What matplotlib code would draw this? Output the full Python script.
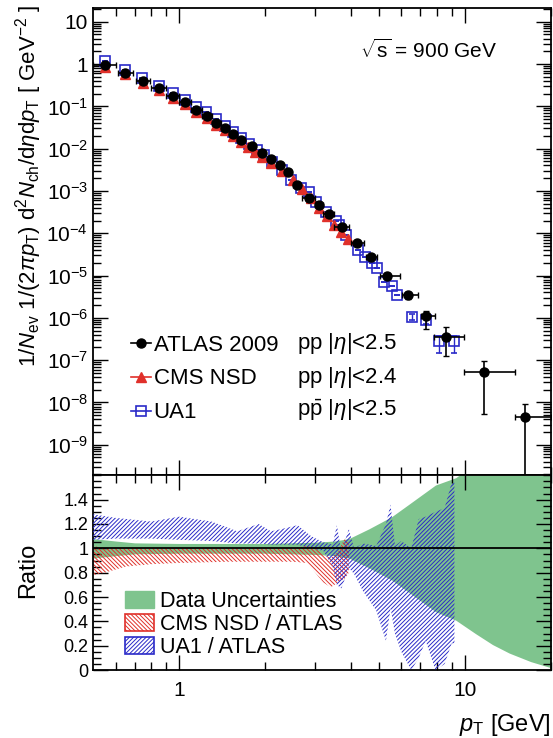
import numpy as np
import matplotlib
matplotlib.use("Agg")
import matplotlib.pyplot as plt
from matplotlib.ticker import LogLocator, FixedLocator, MultipleLocator, FuncFormatter, NullFormatter
from matplotlib.patches import Patch
from matplotlib.lines import Line2D

plt.rcParams['font.family'] = ['Liberation Sans', 'DejaVu Sans']
plt.rcParams['mathtext.fontset'] = 'custom'
plt.rcParams['mathtext.rm'] = 'Liberation Sans'
plt.rcParams['mathtext.it'] = 'Liberation Sans:italic'
plt.rcParams['mathtext.bf'] = 'Liberation Sans:bold'
plt.rcParams['hatch.linewidth'] = 0.7

# ATLAS 2009, pp |eta|<2.5
atlas_pt = [0.55, 0.65, 0.75, 0.85, 0.95, 1.05, 1.15, 1.25, 1.35, 1.45, 1.55, 1.65, 1.8, 1.95, 2.1,
            2.25, 2.4, 2.58, 2.84, 3.09, 3.34, 3.72, 4.19, 4.69, 5.33, 6.31, 7.3, 8.6, 11.7, 16.2]
atlas_lo = [0.5, 0.61, 0.71, 0.8, 0.9, 1.0, 1.1, 1.2, 1.3, 1.4, 1.5, 1.6, 1.75, 1.9, 2.05,
            2.2, 2.35, 2.5, 2.7, 3.0, 3.2, 3.5, 4.0, 4.5, 5.05, 6.05, 7.05, 7.8, 9.9, 15.0]
atlas_hi = [0.6, 0.69, 0.79, 0.9, 1.0, 1.1, 1.2, 1.3, 1.4, 1.5, 1.6, 1.7, 1.85, 2.0, 2.15,
            2.3, 2.45, 2.65, 3.0, 3.2, 3.5, 3.95, 4.45, 4.95, 5.95, 6.85, 7.9, 9.9, 15.0, 20.0]
atlas_val = [0.95, 0.63, 0.39, 0.27, 0.175, 0.125, 0.082, 0.058, 0.040, 0.030, 0.022, 0.016, 0.0114,
             0.0080, 0.0057, 0.0040, 0.0028, 0.0014, 7.0e-4, 4.6e-4, 2.8e-4, 1.4e-4, 6.0e-5, 2.7e-5,
             1.0e-5, 3.4e-6, 1.1e-6, 3.5e-7, 5.3e-8, 4.6e-9]
atlas_up = [0.05] * 22 + [0.08, 0.1, 0.15, 0.2, 0.31, 0.73, 0.85, 1.03]
atlas_dn = [0.05] * 22 + [0.08, 0.1, 0.15, 0.2, 0.50, 0.64, 0.90, 0.9999]

# CMS NSD, pp |eta|<2.4
cms_pt = [0.55, 0.65, 0.75, 0.85, 0.95, 1.05, 1.15, 1.25, 1.35, 1.45, 1.55, 1.65, 1.75, 1.85, 1.95,
          2.1, 2.3, 2.5, 2.7, 2.9, 3.1, 3.3, 3.5, 3.7, 3.9]
cms_val = [0.85, 0.57, 0.35, 0.24, 0.158, 0.112, 0.074, 0.052, 0.036, 0.027, 0.0195, 0.0142, 0.0110,
           0.0082, 0.0064, 0.0045, 0.0030, 0.0018, 0.0011, 6.8e-4, 4.0e-4, 2.5e-4, 1.6e-4, 1.1e-4, 7.5e-5]

# UA1, ppbar |eta|<2.5
ua1_pt = [0.55, 0.65, 0.74, 0.85, 0.95, 1.05, 1.15, 1.24, 1.35, 1.45, 1.54, 1.65, 1.76, 1.87, 1.98,
          2.11, 2.29, 2.46, 2.67, 2.85, 3.01, 3.26, 3.54, 3.62, 3.83, 4.23, 4.47, 4.73, 4.92, 5.21,
          5.55, 5.79, 6.53, 7.3, 8.1, 9.2]
ua1_val = [1.19, 0.73, 0.47, 0.30, 0.21, 0.142, 0.097, 0.074, 0.050, 0.035, 0.025, 0.0178, 0.0128,
           0.0093, 0.0070, 0.0048, 0.0031, 0.0018, 0.00116, 9.3e-4, 5.4e-4, 3.1e-4, 2.0e-4, 1.55e-4,
           9.0e-5, 4.0e-5, 2.7e-5, 2.0e-5, 1.47e-5, 6.9e-6, 5.8e-6, 3.4e-6, 1.07e-6, 9.0e-7, 2.9e-7, 2.9e-7]
ua1_up = [0.0] * 32 + [0.15, 0.2, 0.31, 0.31]
ua1_dn = [0.0] * 32 + [0.15, 0.2, 0.50, 0.50]

# ratio panel: data uncertainty band
band_pt = [0.5, 0.6, 0.7, 1.0, 2.0, 3.0, 3.5, 3.93, 4.62, 5.55, 6.36, 7.9, 9.3, 10.9, 12.5, 14.3, 17.0, 20.0]
band_hi = [1.08, 1.06, 1.045, 1.04, 1.04, 1.05, 1.06, 1.08, 1.16, 1.26, 1.36, 1.52, 1.58, 1.70, 1.79, 1.86, 1.93, 1.98]
band_lo = [0.92, 0.94, 0.955, 0.96, 0.96, 0.95, 0.94, 0.92, 0.84, 0.74, 0.64, 0.48, 0.41, 0.30, 0.21, 0.14, 0.07, 0.02]

# CMS NSD / ATLAS
cms_r_pt = [0.5, 0.55, 0.65, 0.8, 1.0, 1.5, 2.0, 2.5, 2.8, 3.0, 3.2, 3.4, 3.6, 3.8, 3.93]
cms_r_hi = [1.02, 1.0, 1.0, 1.0, 1.0, 1.0, 1.0, 1.0, 1.02, 1.0, 0.95, 0.92, 0.97, 1.08, 1.05]
cms_r_lo = [0.78, 0.80, 0.85, 0.87, 0.88, 0.89, 0.89, 0.89, 0.88, 0.80, 0.72, 0.68, 0.72, 0.75, 0.80]

# UA1 / ATLAS
ua1_r_pt = [0.5, 0.6, 0.8, 1.0, 1.3, 1.6, 1.9, 2.1, 2.3, 2.6, 2.9, 3.2, 3.45, 3.57, 3.7, 3.93, 4.1,
            4.4, 4.9, 5.3, 5.5, 5.7, 6.0, 6.5, 6.9, 7.3, 7.9, 8.5, 9.0, 9.2]
ua1_r_hi = [1.28, 1.25, 1.22, 1.26, 1.22, 1.14, 1.2, 1.14, 1.16, 1.19, 1.1, 1.05, 1.03, 1.19, 0.97,
            1.16, 1.0, 1.04, 1.02, 1.2, 1.36, 1.02, 1.06, 1.0, 1.24, 1.26, 1.3, 1.33, 1.54, 1.54]
ua1_r_lo = [1.07, 1.08, 1.08, 1.07, 1.06, 1.04, 1.04, 1.03, 1.03, 1.03, 1.0, 0.98, 0.85, 0.7, 0.67,
            0.84, 0.79, 0.65, 0.49, 0.24, 0.51, 0.3, 0.15, 0.0, 0.1, 0.24, 0.0, 0.05, 0.22, 0.22]

green = '#7fc48e'
red = '#e0302a'
blue = '#2a2ac8'

fig = plt.figure(figsize=(5.53, 7.38), dpi=100)
ax = fig.add_axes([0.168, 0.356, 0.828, 0.633])
axr = fig.add_axes([0.168, 0.092, 0.828, 0.264], sharex=ax)

a_pt = np.array(atlas_pt)
a_val = np.array(atlas_val)
xerr = [a_pt - np.array(atlas_lo), np.array(atlas_hi) - a_pt]
yerr = [a_val * np.array(atlas_dn), a_val * np.array(atlas_up)]

u_val = np.array(ua1_val)
ax.errorbar(ua1_pt, ua1_val, yerr=[u_val * np.array(ua1_dn), u_val * np.array(ua1_up)],
            fmt='s', ms=7.5, mfc='none', mec=blue, mew=1.2, ecolor=blue, elinewidth=1.0,
            capsize=2, zorder=2)
ax.plot(cms_pt, cms_val, '^', ms=6.5, color=red, mec=red, zorder=3)
ax.errorbar(atlas_pt, atlas_val, xerr=xerr, yerr=yerr, fmt='o', ms=6.5, color='black',
            elinewidth=1.2, capsize=2, capthick=1.0, zorder=4)

ax.set_xscale('log')
ax.set_yscale('log')
ax.set_xlim(0.5, 20)
ax.set_ylim(1.9e-10, 21)


def dec_fmt(v, pos):
    e = int(round(np.log10(v)))
    if e == 0:
        return '1'
    if e == 1:
        return '10'
    return r'$10^{%d}$' % e


ax.yaxis.set_major_locator(LogLocator(base=10, numticks=20))
ax.yaxis.set_minor_locator(LogLocator(base=10, subs=np.arange(2, 10), numticks=20))
ax.yaxis.set_major_formatter(FuncFormatter(dec_fmt))
ax.yaxis.set_minor_formatter(NullFormatter())

for a in (ax, axr):
    a.xaxis.set_major_locator(FixedLocator([1, 10]))
    a.xaxis.set_minor_locator(FixedLocator([0.6, 0.7, 0.8, 0.9, 2, 3, 4, 5, 6, 7, 8, 9, 20]))
    a.tick_params(which='both', direction='in', top=True, right=True, width=1.0)
    a.tick_params(which='major', length=11, labelsize=15)
    a.tick_params(which='minor', length=5.5)
    for s in a.spines.values():
        s.set_linewidth(1.3)
plt.setp(ax.get_xticklabels(), visible=False)
ax.xaxis.set_minor_formatter(NullFormatter())
axr.xaxis.set_minor_formatter(NullFormatter())
axr.xaxis.set_major_formatter(FuncFormatter(lambda v, p: '%g' % v))
axr.tick_params(axis='x', pad=8)
axr.tick_params(axis='y', labelsize=13, pad=3)

# legend, top panel
h_atlas = Line2D([], [], color='black', marker='o', ms=6.5, lw=1.2)
h_cms = Line2D([], [], color=red, marker='^', ms=6.5, lw=1.2)
h_ua1 = Line2D([], [], color=blue, marker='s', ms=7, mfc='none', mew=1.2, lw=1.2)
ax.legend([h_atlas, h_cms, h_ua1], ['ATLAS 2009', 'CMS NSD', 'UA1'], loc='upper left',
          bbox_to_anchor=(0.06, 0.325), frameon=False, fontsize=16, handlelength=0.9,
          handletextpad=0.1, labelspacing=0.58, borderpad=0)
for yy, txt in zip([0.283, 0.210, 0.139],
                   [r'pp $|\eta|$<2.5', r'pp $|\eta|$<2.4', r'p$\bar{\rm p}$ $|\eta|$<2.5']):
    ax.text(0.446, yy, txt, transform=ax.transAxes, fontsize=16, va='center', ha='left')
ax.text(0.583, 0.91, r'$\sqrt{\rm s}$ = 900 GeV', transform=ax.transAxes, fontsize=15,
        va='center', ha='left')

# ratio panel
axr.fill_between(band_pt, band_lo, band_hi, color=green, lw=0, zorder=1)
axr.fill_between(cms_r_pt, cms_r_lo, cms_r_hi, facecolor='none', edgecolor=red,
                 hatch='\\\\\\\\\\\\\\\\', lw=0, zorder=2)
axr.fill_between(ua1_r_pt, ua1_r_lo, ua1_r_hi, facecolor='none', edgecolor=blue, hatch='////////',
                 lw=0, zorder=3)
axr.axhline(1.0, color='black', lw=1.3, zorder=4)
axr.set_ylim(0, 1.6)
axr.yaxis.set_major_locator(FixedLocator([0, 0.2, 0.4, 0.6, 0.8, 1.0, 1.2, 1.4]))
axr.yaxis.set_minor_locator(MultipleLocator(0.05))
axr.yaxis.set_major_formatter(FuncFormatter(lambda v, p: '%g' % v))

handles = [Patch(facecolor=green, edgecolor=green),
           Patch(facecolor='none', edgecolor=red, hatch='\\\\\\\\\\\\\\\\', lw=1.2),
           Patch(facecolor='none', edgecolor=blue, hatch='////////', lw=1.2)]
axr.legend(handles, ['Data Uncertainties', 'CMS NSD / ATLAS', 'UA1 / ATLAS'], loc='lower left',
           bbox_to_anchor=(0.046, 0.008), frameon=False, fontsize=15.5, handlelength=1.35,
           handleheight=0.85, handletextpad=0.3, labelspacing=0.08, borderpad=0)

fig.text(29 / 553, 1 - 5 / 738,
         r'$1/N_{\rm ev}\ 1/(2\pi p_{\rm T})\ {\rm d}^2N_{\rm ch}/{\rm d}\eta {\rm d}p_{\rm T}$ [ GeV$^{-2}$ ]',
         rotation=90, ha='center', va='top', fontsize=16)
fig.text(28 / 553, 1 - 570 / 738, 'Ratio', rotation=90, ha='center', va='center', fontsize=17)
fig.text(551 / 553, 1 - 725 / 738, r'$p_{\rm T}$ [GeV]', ha='right', va='center', fontsize=17)

fig.savefig('out.png', dpi=100)
